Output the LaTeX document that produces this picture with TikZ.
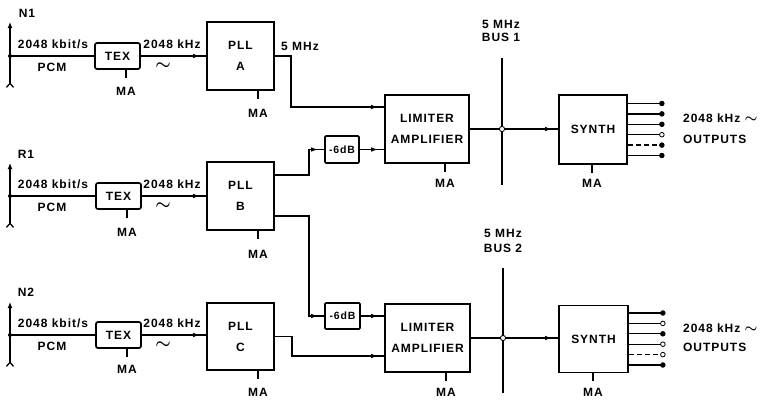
\documentclass[tikz,border=0pt]{standalone}
\usepackage{fontspec}
\setmainfont{Liberation Sans}[LetterSpace=8]
\usetikzlibrary{arrows.meta,decorations.markings,calc}
\tikzset{
  every node/.style={font=\fontsize{12}{14}\selectfont\bfseries, inner sep=0pt},
  blk/.style={draw, line width=1.7pt, align=center, font=\fontsize{12}{21}\selectfont\bfseries},
  wire/.style={line width=1.3pt},
  dashwire/.style={line width=1.3pt, dash pattern=on 5pt off 3pt},
  arr/.style={postaction={decorate}, decoration={markings, mark=at position -6pt with {\arrow{Latex[length=7pt,width=4.5pt]}}}},
  tilde/.style={font=\fontsize{17}{17}\selectfont\boldmath},
  outdot/.style={line width=0.8pt},
}
\begin{document}
\begin{tikzpicture}[x=1pt,y=-1pt]
\useasboundingbox (0,0) rectangle (773,400);

% ---------- blocks ----------
\node[blk, minimum width=45pt, minimum height=26pt, rounded corners=2pt] (tex1) at (117.5,56) {TEX};
\node[blk, minimum width=45pt, minimum height=26pt, rounded corners=2pt] (tex2) at (118.5,196) {TEX};
\node[blk, minimum width=45pt, minimum height=26pt, rounded corners=2pt] (tex3) at (118.5,335) {TEX};

\node[blk, minimum width=67pt, minimum height=68pt] (pll1) at (240.5,56) {PLL\\A};
\node[blk, minimum width=67pt, minimum height=68pt] (pll2) at (240.5,196) {PLL\\B};
\node[blk, minimum width=67pt, minimum height=67pt] (pll3) at (240.5,336.5) {PLL\\C};

\node[blk, minimum width=34pt, minimum height=27pt, rounded corners=1pt, font=\fontsize{10.5}{12}\selectfont\bfseries] (db1) at (342,149.5) {-6dB};
\node[blk, minimum width=35pt, minimum height=26pt, rounded corners=1pt, font=\fontsize{10.5}{12}\selectfont\bfseries] (db2) at (342.5,316) {-6dB};

\node[blk, minimum width=84pt, minimum height=68pt] (lim1) at (427,129) {LIMITER\\AMPLIFIER};
\node[blk, minimum width=85pt, minimum height=68pt] (lim2) at (427.5,338) {LIMITER\\AMPLIFIER};

\node[blk, minimum width=68pt, minimum height=69pt] (syn1) at (593,129.5) {SYNTH};
\node[blk, minimum width=69pt, minimum height=67pt] (syn2) at (593.5,339) {SYNTH};

% ---------- inputs ----------
\foreach \r/\y/\top/\bot in {1/56/22/88, 2/196/163/228, 3/335/302/367}{
  \coordinate (j\r) at (10,\y);
  \coordinate (it\r) at (10,\top);
  \coordinate (ib\r) at (10,\bot);
  \draw[wire, {Straight Barb[reversed,length=4pt,width=7pt]}-{Latex[length=6pt,width=5pt]}] (ib\r) -- (it\r);
  \fill (j\r) circle (2pt);
  \draw[wire] (j\r) -- (tex\r.west);
  \draw[wire, arr] (tex\r.east) -- (tex\r.east -| pll\r.west);
}
\node (lN1) at (27,13) {N1};
\node (lR1) at (26,154) {R1};
\node (lN2) at (26,292) {N2};

\foreach \r/\ya/\yb in {1/44/67, 2/184/207, 3/323/346}{
  \node (kb\r) at (53,\ya) {2048 kbit/s};
  \node (pcm\r) at (52,\yb) {PCM};
  \node (kh\r) at (172,\ya) {2048 kHz};
  \node[tilde] (tl\r) at (163,\yb-1) {$\sim$};
}

% ---------- MA ticks ----------
\foreach \n/\x/\y in {tex1/126/91, tex2/127/232, tex3/127/369,
                      pll1/258/113, pll2/258/254, pll3/258/392,
                      lim1/445/183, lim2/446/392, syn1/592/183, syn2/593/392}{
  \node (ma\n) at (\x,\y) {MA};
  \draw[wire] (\n.south -| ma\n) -- ++(0,8);
}

% ---------- PLL to limiter connections ----------
\coordinate (c1) at (291,107);
\draw[wire, arr] (pll1.east) -| (c1) -- (c1 -| lim1.west);
\node (f5) at (300,46) {5 MHz};

\coordinate (c2a) at (309,175);
\coordinate (c2b) at (309,216);
\draw[wire, arr] (pll2.east |- c2a) -- (c2a) |- (db1.west);
\draw[wire, arr] (db1.east) -- (db1.east -| lim1.west);
\draw[wire, arr] (pll2.east |- c2b) -- (c2b) |- (db2.west);
\draw[wire, arr] (db2.east) -- (db2.east -| lim2.west);

\coordinate (c3) at (292,356);
\draw[wire, arr] (pll3.east) -| (c3) -- (c3 -| lim2.west);

% ---------- buses ----------
\coordinate (b1t) at (502,58);
\coordinate (b1b) at (502,185);
\coordinate (b1j) at (502,129);
\draw[line width=1.7pt] (b1t) -- (b1b);
\draw[wire] (lim1.east) -- (b1j);
\draw[wire, arr] (b1j) -- (b1j -| syn1.west);
\filldraw[fill=white, line width=0.9pt] (b1j) circle (2.6pt);
\node[align=center, font=\fontsize{12}{13}\selectfont\bfseries] (bus1) at (501,31) {5 MHz\\BUS 1};

\coordinate (b2t) at (503,268);
\coordinate (b2b) at (503,393);
\coordinate (b2j) at (503,338);
\draw[line width=1.7pt] (b2t) -- (b2b);
\draw[wire] (lim2.east) -- (b2j);
\draw[wire, arr] (b2j) -- (b2j -| syn2.west);
\filldraw[fill=white, line width=0.9pt] (b2j) circle (2.6pt);
\node[align=center, font=\fontsize{12}{15}\selectfont\bfseries] (bus2) at (503,241) {5 MHz\\BUS 2};

% ---------- outputs ----------
\foreach \i/\dy/\ds/\fc in {1/-26/wire/black, 2/-15.6/wire/black, 3/-5.2/wire/black, 4/5.2/wire/white, 5/15.6/dashwire/black, 6/26/wire/black}{
  \path (syn1.east) ++(0,\dy) coordinate (s1a\i) ++(34,0) coordinate (s1b\i);
  \draw[\ds] (s1a\i) -- (s1b\i);
  \filldraw[outdot, fill=\fc] (s1b\i) circle (2.3pt);
}
\foreach \i/\dy/\ds/\fc in {1/-26/wire/black, 2/-15.6/wire/white, 3/-5.2/wire/black, 4/5.2/wire/white, 5/15.6/dashwire/white, 6/26/wire/black}{
  \path (syn2.east) ++(0,\dy) coordinate (s2a\i) ++(34,0) coordinate (s2b\i);
  \draw[\ds] (s2a\i) -- (s2b\i);
  \filldraw[outdot, fill=\fc] (s2b\i) circle (2.3pt);
}
\node[anchor=west] (out1a) at (683,118) {2048 kHz {\boldmath\fontsize{15}{15}\selectfont$\sim$}};
\node[anchor=west] (out1b) at (683,139) {OUTPUTS};
\node[anchor=west] (out2a) at (683,328) {2048 kHz {\boldmath\fontsize{15}{15}\selectfont$\sim$}};
\node[anchor=west] (out2b) at (683,347) {OUTPUTS};
\end{tikzpicture}
\end{document}
